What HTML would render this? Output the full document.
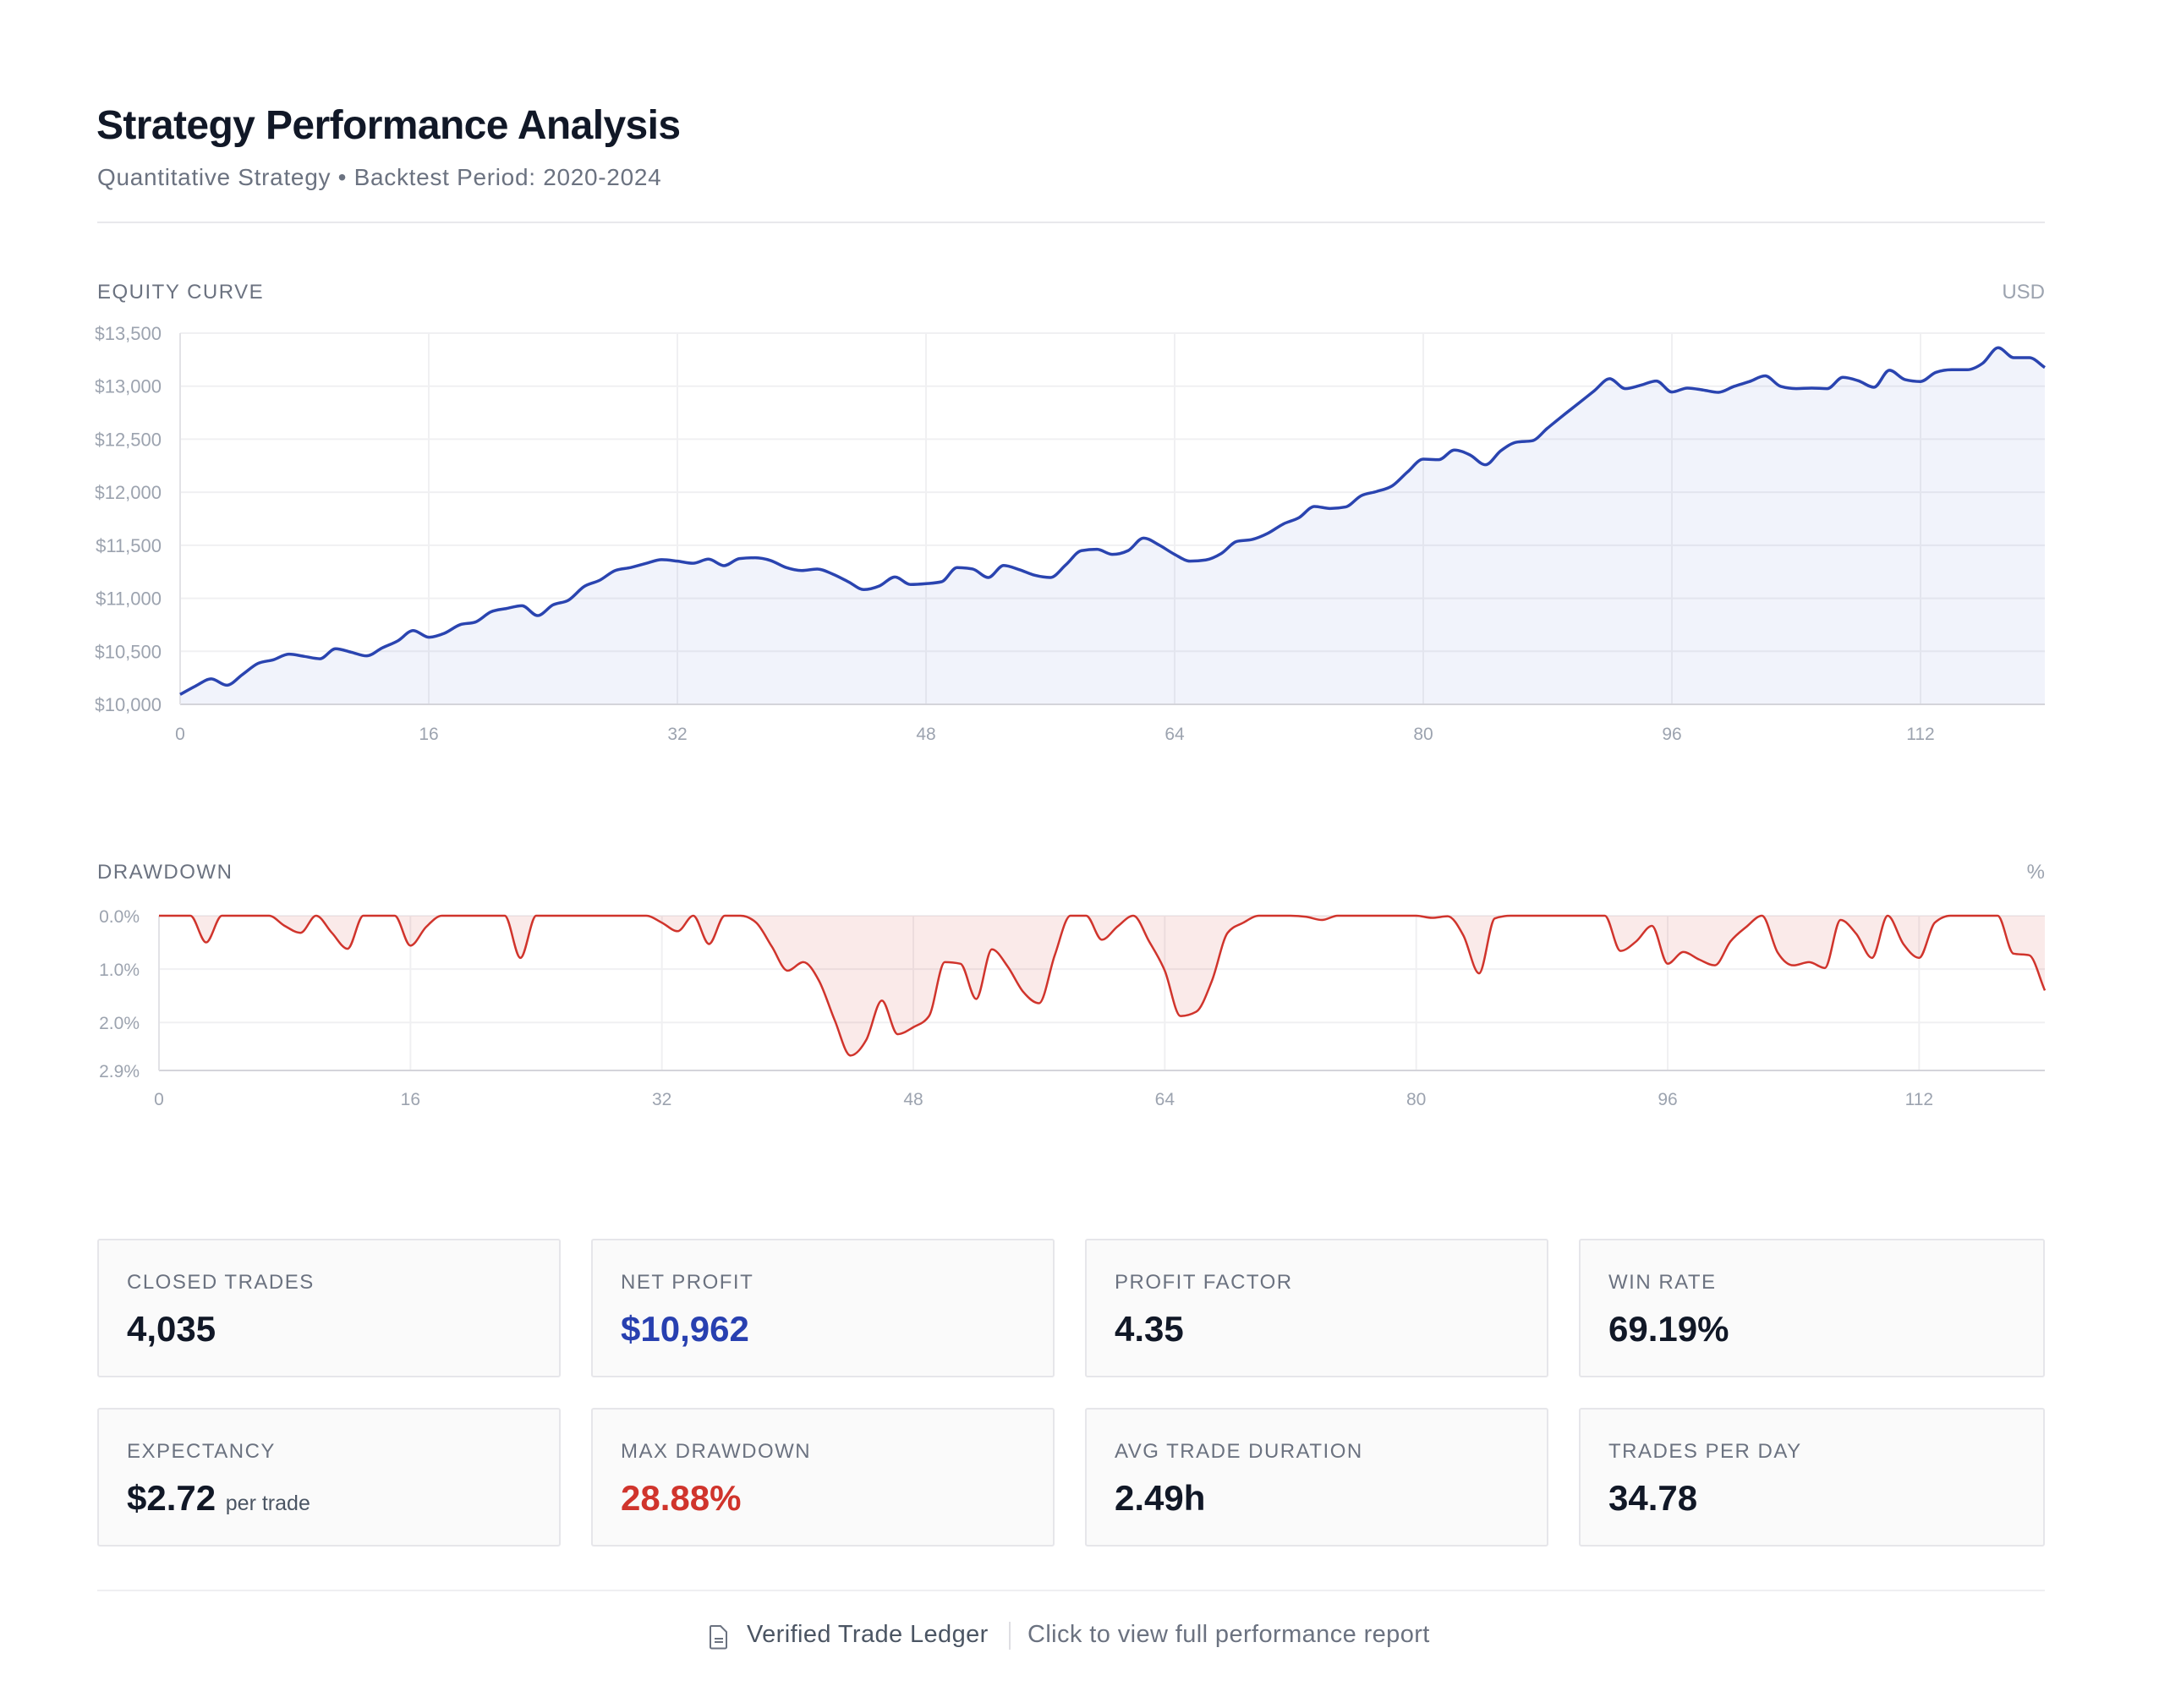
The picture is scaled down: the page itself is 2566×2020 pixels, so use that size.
<!DOCTYPE html>
<html><head><meta charset="utf-8"><style>
body{margin:0;background:#fff;font-family:"Liberation Sans",sans-serif;}
#root{position:relative;width:2566px;height:2020px;overflow:hidden;background:#fff}
.abs{position:absolute;white-space:nowrap}
.card{position:absolute;width:548px;height:164px;background:#fafafa;border:2px solid #e6e6ea;border-radius:3px;box-sizing:border-box}
.card .lab{position:absolute;left:33px;top:36px;font-size:24px;letter-spacing:1.5px;color:#6b7280}
.card .val{position:absolute;left:33px;top:81px;font-size:42px;font-weight:bold;color:#111827;letter-spacing:0px}
</style></head><body>
<div id="root">
<div class="abs" style="left:114px;top:121px;font-size:48px;font-weight:bold;color:#111827;letter-spacing:-0.6px">Strategy Performance Analysis</div>
<div class="abs" style="left:115px;top:194px;font-size:28px;color:#6b7280;letter-spacing:0.7px">Quantitative Strategy • Backtest Period: 2020-2024</div>
<div class="abs" style="left:115px;top:262px;width:2303px;height:2px;background:#e8e8ec"></div>

<svg id="charts" class="abs" style="left:0;top:0" width="2566" height="1400">
<defs><clipPath id="eqclip"><rect x="113" y="0" width="2400" height="1400"/></clipPath></defs>
<text x="115" y="353" font-size="24" fill="#6b7280" letter-spacing="1.5">EQUITY CURVE</text>
<text x="2418" y="353" font-size="24" fill="#9ca3af" text-anchor="end">USD</text>
<text x="115" y="1039" font-size="24" fill="#6b7280" letter-spacing="1.5">DRAWDOWN</text>
<text x="2418" y="1039" font-size="24" fill="#9ca3af" text-anchor="end">%</text>
<g id="eqg" clip-path="url(#eqclip)"></g>
<g id="ddg"></g>
</svg>

<div class="card" style="left:115px;top:1465px"><div class="lab">CLOSED TRADES</div><div class="val">4,035</div></div>
<div class="card" style="left:699px;top:1465px"><div class="lab">NET PROFIT</div><div class="val" style="color:#2840b0">$10,962</div></div>
<div class="card" style="left:1283px;top:1465px"><div class="lab">PROFIT FACTOR</div><div class="val">4.35</div></div>
<div class="card" style="left:1867px;top:1465px;width:551px"><div class="lab">WIN RATE</div><div class="val">69.19%</div></div>
<div class="card" style="left:115px;top:1665px"><div class="lab">EXPECTANCY</div><div class="val">$2.72 <span style="font-size:25px;font-weight:normal;color:#4b5563;letter-spacing:0">per trade</span></div></div>
<div class="card" style="left:699px;top:1665px"><div class="lab">MAX DRAWDOWN</div><div class="val" style="color:#d0342c">28.88%</div></div>
<div class="card" style="left:1283px;top:1665px"><div class="lab">AVG TRADE DURATION</div><div class="val">2.49h</div></div>
<div class="card" style="left:1867px;top:1665px;width:551px"><div class="lab">TRADES PER DAY</div><div class="val">34.78</div></div>

<div class="abs" style="left:115px;top:1880px;width:2303px;height:2px;background:#efeff2"></div>
<div class="abs" style="left:838px;top:1915px;height:40px;font-size:29px;color:#6b7280;cursor:pointer;letter-spacing:0.4px">
<svg style="position:absolute;left:0;top:6px" width="24" height="30" viewBox="0 0 24 30"><path d="M3 2h11l7 7v18a1.5 1.5 0 0 1-1.5 1.5h-16A1.5 1.5 0 0 1 2 27V3.5A1.5 1.5 0 0 1 3 2z" fill="none" stroke="#6b7280" stroke-width="2"/><path d="M7 17h10M7 21h10" stroke="#6b7280" stroke-width="2"/></svg>
<span style="position:absolute;left:45px;top:2px;color:#4b5563">Verified Trade Ledger</span>
<span style="position:absolute;left:355px;top:3px;width:2px;height:33px;background:#dedee3"></span>
<span style="position:absolute;left:377px;top:2px">Click to view full performance report</span>
</div>
</div>
<script>
const eqTicks=[10000,10500,11000,11500,12000,12500,13000,13500];
const eqTickLabels=["$10,000","$10,500","$11,000","$11,500","$12,000","$12,500","$13,000","$13,500"];
const xTicks=[0,16,32,48,64,80,96,112];
const equity=[10093,10173,10240,10180,10280,10385,10420,10473,10452,10430,10524,10492,10457,10532,10598,10696,10633,10670,10750,10776,10872,10904,10930,10837,10938,10983,11111,11170,11262,11290,11330,11364,11350,11330,11369,11308,11374,11382,11356,11290,11262,11276,11228,11156,11082,11116,11201,11130,11138,11156,11290,11276,11196,11310,11270,11217,11196,11316,11449,11462,11414,11449,11568,11502,11414,11350,11361,11422,11536,11555,11613,11701,11760,11866,11847,11861,11967,12007,12060,12193,12312,12307,12398,12352,12259,12392,12472,12485,12605,12724,12839,12956,13070,12977,13009,13049,12945,12982,12964,12942,12998,13044,13097,12998,12977,12982,12977,13083,13051,12990,13150,13062,13044,13131,13155,13155,13216,13362,13269,13269,13176];
const ddTicks=[0,1,2,2.9];
const ddTickLabels=["0.0%","1.0%","2.0%","2.9%"];
const drawdown=[0,0,0,0.50,0,0,0,0,0.19,0.32,0,0.32,0.62,0,0,0,0.56,0.21,0,0,0,0,0,0.79,0,0,0,0,0,0,0,0,0.13,0.29,0,0.53,0,0,0.13,0.58,1.03,0.87,1.22,1.96,2.62,2.33,1.59,2.22,2.09,1.88,0.87,0.90,1.56,0.63,0.95,1.43,1.64,0.74,0,0,0.45,0.20,0,0.48,1.03,1.88,1.80,1.22,0.32,0.13,0,0,0,0.02,0.08,0,0,0,0,0,0,0.04,0.01,0.37,1.08,0.05,0,0,0,0,0,0,0,0.66,0.48,0.19,0.90,0.68,0.82,0.93,0.48,0.21,0,0.69,0.93,0.87,0.98,0.08,0.34,0.79,0,0.53,0.79,0.13,0,0,0,0,0.71,0.74,1.40];

const NS="http://www.w3.org/2000/svg";
function mk(tag,attrs,parent){const e=document.createElementNS(NS,tag);for(const k in attrs)e.setAttribute(k,attrs[k]);parent.appendChild(e);return e;}
function monotone(pts){
  const n=pts.length;if(n<2)return "";
  const dx=[],m=[],t=[];
  for(let i=0;i<n-1;i++){dx[i]=pts[i+1][0]-pts[i][0];m[i]=(pts[i+1][1]-pts[i][1])/dx[i];}
  t[0]=m[0];t[n-1]=m[n-2];
  for(let i=1;i<n-1;i++){ if(m[i-1]*m[i]<=0)t[i]=0; else { const h0=dx[i-1],h1=dx[i]; const p=(m[i-1]*h1+m[i]*h0)/(h0+h1); t[i]=(Math.sign(m[i-1])+Math.sign(m[i]))*Math.min(Math.abs(m[i-1]),Math.abs(m[i]),0.5*Math.abs(p)); } }
  let d="M"+pts[0][0]+","+pts[0][1];
  for(let i=0;i<n-1;i++){const h=dx[i]/3;d+="C"+(pts[i][0]+h)+","+(pts[i][1]+h*t[i])+" "+(pts[i+1][0]-h)+","+(pts[i+1][1]-h*t[i+1])+" "+pts[i+1][0]+","+pts[i+1][1];}
  return d;
}
// Equity chart
(function(){
  const g=document.getElementById('eqg');
  const L=213,R=2418,T=394,B=833, xMax=equity.length-1;
  const x=i=>L+(R-L)*i/xMax, y=v=>B-(B-T)*(v-10000)/3500;
  eqTicks.forEach((v,k)=>{
    const ln=mk('line',{x1:L,x2:R,y1:y(v),y2:y(v),stroke:'#f0f0f2','stroke-width':2},g);
    
    
    const tx=mk('text',{x:191,y:y(v)+8,'font-size':22,fill:'#9ca3af','text-anchor':'end'},g);
    tx.textContent=eqTickLabels[k];
    
    
  });
  xTicks.forEach(v=>{
    const ln=mk('line',{x1:x(v),x2:x(v),y1:T,y2:B,stroke:'#f0f0f2','stroke-width':2},g);
    
    
    const tx=mk('text',{x:x(v),y:875,'font-size':21,fill:'#9ca3af','text-anchor':'middle'},g);
    tx.textContent=v;
    
    
  });
  const pts=equity.map((v,i)=>[x(i),y(v)]);
  const d=monotone(pts);
  const area=mk('path',{d:d+"L"+R+","+B+"L"+L+","+B+"Z",fill:'rgba(60,80,200,0.07)'},g);
  
  
  const ax=mk('line',{x1:L,x2:R,y1:B,y2:B,stroke:'#d4d4da','stroke-width':2},g);
  
  
  const ay=mk('line',{x1:L,x2:L,y1:T,y2:B,stroke:'#e2e2e6','stroke-width':2},g);
  
  
  const line=mk('path',{d:d,fill:'none',stroke:'#2a44b0','stroke-width':3.5,'stroke-linejoin':'round'},g);
  
  
})();
// Drawdown chart
(function(){
  const g=document.getElementById('ddg');
  const L=188,R=2418,T=1083,B=1266,xMax=drawdown.length-1;
  const x=i=>L+(R-L)*i/xMax, y=v=>T+(B-T)*v/2.9;
  ddTicks.forEach((v,k)=>{
    const ln=mk('line',{x1:L,x2:R,y1:y(v),y2:y(v),stroke:'#f0f0f2','stroke-width':2},g);
    
    
    const tx=mk('text',{x:165,y:y(v)+8,'font-size':21,fill:'#9ca3af','text-anchor':'end'},g);
    tx.textContent=ddTickLabels[k];
    
    
  });
  xTicks.forEach(v=>{
    const ln=mk('line',{x1:x(v),x2:x(v),y1:T,y2:B,stroke:'#f0f0f2','stroke-width':2},g);
    
    
    const tx=mk('text',{x:x(v),y:1307,'font-size':21,fill:'#9ca3af','text-anchor':'middle'},g);
    tx.textContent=v;
    
    
  });
  const pts=drawdown.map((v,i)=>[x(i),y(v)]);
  const d=monotone(pts);
  const area=mk('path',{d:d+"L"+R+","+T+"L"+L+","+T+"Z",fill:'rgba(208,52,44,0.1)'},g);
  
  
  const ax=mk('line',{x1:L,x2:R,y1:B,y2:B,stroke:'#d4d4da','stroke-width':2},g);
  
  
  const ay=mk('line',{x1:L,x2:L,y1:T,y2:B,stroke:'#e2e2e6','stroke-width':2},g);
  
  
  const line=mk('path',{d:d,fill:'none',stroke:'#d0342c','stroke-width':2.5,'stroke-linejoin':'round'},g);
  
  
})();
</script>
</body></html>
